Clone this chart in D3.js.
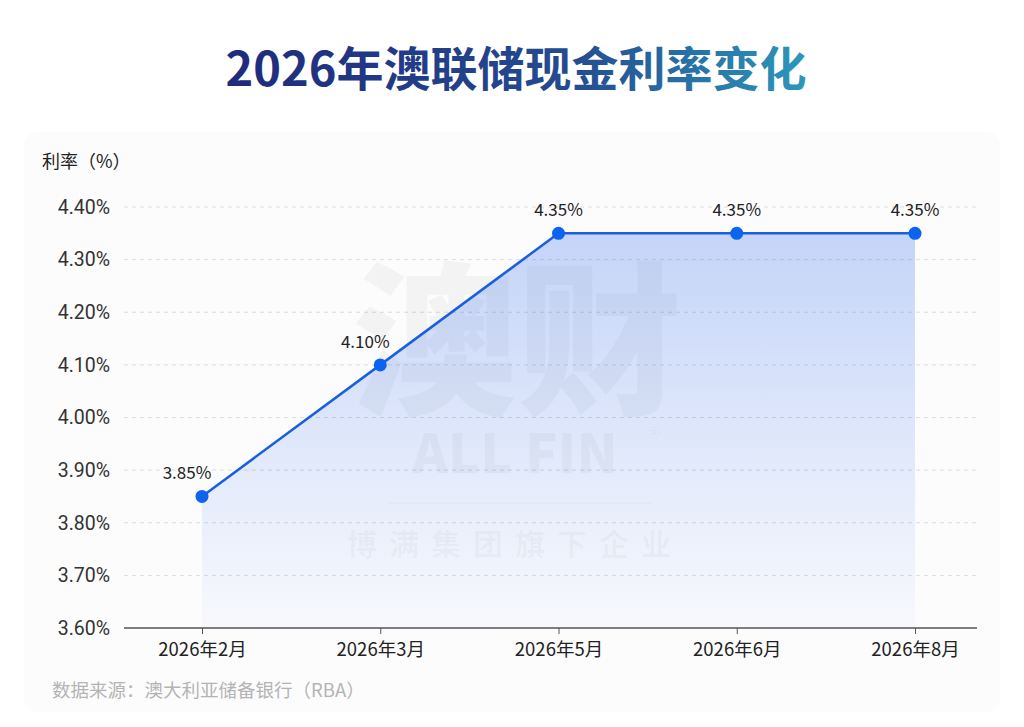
<!DOCTYPE html>
<html>
<head>
<meta charset="utf-8">
<script src="https://cdn.jsdelivr.net/npm/d3@7"></script>
<style>
  body { margin: 0; background: #ffffff; }
  text { font-family: "Noto Sans CJK SC", "Noto Sans", sans-serif; }
</style>
</head>
<body>
<div id="content"></div>
<script>
var months = ["2026年2月", "2026年3月", "2026年5月", "2026年6月", "2026年8月"];
var rates = [3.85, 4.10, 4.35, 4.35, 4.35];
var yTicks = [3.6, 3.7, 3.8, 3.9, 4.0, 4.1, 4.2, 4.3, 4.4];

var W = 1024, H = 727;
var svg = d3.select("#content").append("svg")
    .attr("width", W)
    .attr("height", H);

var defs = svg.append("defs");
var tg = defs.append("linearGradient").attr("id", "titleGrad")
    .attr("x1", "0%").attr("x2", "100%").attr("y1", "0%").attr("y2", "0%");
tg.append("stop").attr("offset", "0%").attr("stop-color", "#1f2a7c");
tg.append("stop").attr("offset", "60%").attr("stop-color", "#244c90");
tg.append("stop").attr("offset", "100%").attr("stop-color", "#2c97ba");

var ag = defs.append("linearGradient").attr("id", "areaGrad")
    .attr("x1", "0").attr("x2", "0").attr("y1", "0").attr("y2", "1");
ag.append("stop").attr("offset", "0%").attr("stop-color", "#2563eb").attr("stop-opacity", 0.26);
ag.append("stop").attr("offset", "100%").attr("stop-color", "#2563eb").attr("stop-opacity", 0.02);

// very soft panel behind the chart
svg.append("rect")
    .attr("x", 24).attr("y", 132)
    .attr("width", 976).attr("height", 580)
    .attr("rx", 14)
    .attr("fill", "#fcfcfd");

// title
svg.append("text")
    .attr("x", 516).attr("y", 86)
    .attr("text-anchor", "middle")
    .attr("font-size", 47)
    .attr("font-weight", 700)
    .attr("fill", "url(#titleGrad)")
    .text("2026年澳联储现金利率变化");

var x = d3.scalePoint().domain(months).range([202, 915]);
var y = d3.scaleLinear().domain([3.6, 4.4]).range([628, 207]);
var left = 124, right = 977;

// gridlines
svg.selectAll(".grid").data(yTicks.slice(1)).enter().append("line")
    .attr("x1", left).attr("x2", right)
    .attr("y1", function(d){ return y(d); })
    .attr("y2", function(d){ return y(d); })
    .attr("stroke", "#dcdcdc")
    .attr("stroke-width", 1)
    .attr("stroke-dasharray", "4,4");

// watermark
var wm = svg.append("g").attr("fill", "#000").attr("fill-opacity", 0.035);
wm.append("text").attr("x", 517).attr("y", 402).attr("text-anchor", "middle")
    .attr("font-size", 165).attr("font-weight", 900).text("澳财");
wm.append("text").attr("x", 515).attr("y", 473).attr("text-anchor", "middle")
    .attr("font-size", 54).attr("font-weight", 900)
    .attr("font-family", "Roboto, sans-serif").text("ALL FIN");
wm.append("text").attr("x", 654).attr("y", 449).attr("text-anchor", "middle")
    .attr("font-size", 28).attr("font-family", "Roboto, sans-serif").text("®");
wm.append("text").attr("x", 515).attr("y", 555).attr("text-anchor", "middle")
    .attr("font-size", 30).attr("font-weight", 700).attr("letter-spacing", 12)
    .text("博满集团旗下企业");
svg.append("line").attr("x1", 387).attr("x2", 652).attr("y1", 503).attr("y2", 503)
    .attr("stroke", "#000").attr("stroke-opacity", 0.05);

// area + line
var area = d3.area()
    .x(function(d, i){ return x(months[i]); })
    .y0(y(3.6))
    .y1(function(d){ return y(d); });
var line = d3.line()
    .x(function(d, i){ return x(months[i]); })
    .y(function(d){ return y(d); });

svg.append("path")
    .datum(rates)
    .attr("d", area)
    .attr("fill", "url(#areaGrad)");

svg.append("path")
    .datum(rates)
    .attr("d", line)
    .attr("fill", "none")
    .attr("stroke", "#1a5fe0")
    .attr("stroke-width", 2.5);

svg.selectAll(".dot").data(rates).enter().append("circle")
    .attr("cx", function(d, i){ return x(months[i]); })
    .attr("cy", function(d){ return y(d); })
    .attr("r", 6.5)
    .attr("fill", "#0b63f0");

svg.selectAll(".lbl").data(rates).enter().append("text")
    .attr("x", function(d, i){ return x(months[i]) - (i < 2 ? 15 : 0); })
    .attr("y", function(d){ return y(d) - 17; })
    .attr("text-anchor", "middle")
    .attr("font-size", 17)
    .attr("fill", "#222")
    .attr("font-family", "Roboto, sans-serif")
    .text(function(d){ return d.toFixed(2) + "%"; });

// x axis
var xAxis = svg.append("g")
    .attr("transform", "translate(0," + y(3.6) + ")")
    .call(d3.axisBottom(x).tickSize(6).tickSizeOuter(0));
xAxis.select(".domain").remove();
xAxis.append("line").attr("x1", left).attr("x2", right)
    .attr("stroke", "#555").attr("stroke-width", 1.5);
xAxis.selectAll(".tick line").attr("stroke", "#555");
xAxis.selectAll(".tick text")
    .attr("font-size", 18.5)
    .attr("fill", "#222")
    .attr("dy", "1.05em")
    .style("font-family", "\"Noto Sans CJK SC\", sans-serif");

// y axis labels
var yAxis = svg.append("g")
    .attr("transform", "translate(110,0)")
    .call(d3.axisLeft(y).tickValues(yTicks).tickSize(0)
        .tickFormat(function(d){ return d.toFixed(2) + "%"; }));
yAxis.select(".domain").remove();
yAxis.selectAll(".tick text")
    .attr("x", 0)
    .attr("font-size", 19.5)
    .attr("fill", "#333")
    .style("font-family", "Roboto, sans-serif");

// y title
svg.append("text")
    .attr("x", 42).attr("y", 168)
    .attr("font-size", 18)
    .attr("fill", "#222")
    .text("利率（%）");

// source
svg.append("text")
    .attr("x", 52).attr("y", 697)
    .attr("font-size", 18.5)
    .attr("fill", "#b4b4b4")
    .text("数据来源：澳大利亚储备银行（RBA）");
</script>
</body>
</html>
